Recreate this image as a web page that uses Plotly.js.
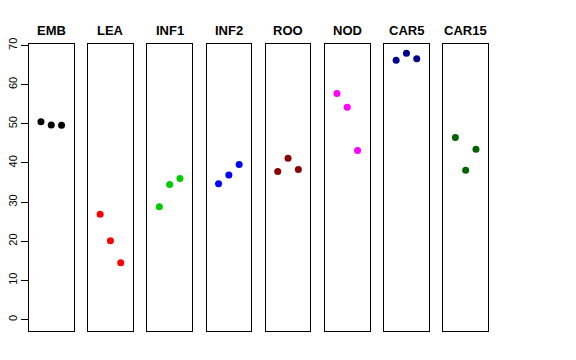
<!DOCTYPE html>
<html>
<head>
<meta charset="utf-8">
<script src="https://cdn.plot.ly/plotly-3.0.1.min.js"></script>
<style>html,body{margin:0;padding:0;background:#fff}#chart{width:576px;height:360px}</style>
</head>
<body>
<div id="chart"></div>
<script>
var categories = ["EMB", "LEA", "INF1", "INF2", "ROO", "NOD", "CAR5", "CAR15"];
var xPositions = [1, 2, 3];
var EMB = [50.5, 49.7, 49.6];
var LEA = [26.9, 20.1, 14.5];
var INF1 = [28.8, 34.5, 36.0];
var INF2 = [34.7, 36.9, 39.6];
var ROO = [37.8, 41.2, 38.3];
var NOD = [57.7, 54.2, 43.2];
var CAR5 = [66.2, 68.0, 66.6];
var CAR15 = [46.5, 38.1, 43.5];
var seriesValues = [EMB, LEA, INF1, INF2, ROO, NOD, CAR5, CAR15];
var colors = ["#000000", "#FF0000", "#00CD00", "#0000FF", "#8B0000", "#FF00FF", "#00008B", "#006400"];
var yTickVals = [0, 10, 20, 30, 40, 50, 60, 70];

var W = 576, H = 360;
var firstLeft = 29, step = 59.2, panelW = 44.5;
var boxTop = 43.5, boxBottom = 330.5;

var traces = [];
var layout = {
  width: W, height: H,
  margin: {l: 0, r: 0, t: 0, b: 0},
  paper_bgcolor: "#fff", plot_bgcolor: "#fff",
  showlegend: false,
  font: {family: "Liberation Sans, Arial, sans-serif", color: "#000"},
  annotations: []
};
categories.forEach(function (cat, i) {
  var n = i === 0 ? "" : String(i + 1);
  var x0 = (firstLeft + i * step) / W, x1 = (firstLeft + i * step + panelW) / W;
  traces.push({
    type: "scatter", mode: "markers",
    x: xPositions, y: seriesValues[i],
    xaxis: "x" + n, yaxis: "y" + n,
    marker: {color: colors[i], size: 7},
    hoverinfo: "skip"
  });
  layout["xaxis" + n] = {
    domain: [x0, x1], range: [-0.16, 4.16], anchor: "y" + n,
    showgrid: false, zeroline: false, showticklabels: false, ticks: "",
    showline: true, mirror: true, linecolor: "#000", linewidth: 1, fixedrange: true
  };
  var ya = {
    domain: [1 - boxBottom / H, 1 - boxTop / H], range: [-2.8, 70.5], anchor: "x" + n,
    showgrid: false, zeroline: false,
    showline: true, mirror: true, linecolor: "#000", linewidth: 1, fixedrange: true
  };
  if (i === 0) {
    ya.tickvals = yTickVals;
    ya.ticktext = yTickVals.map(String);
    ya.ticks = "outside"; ya.ticklen = 7; ya.tickcolor = "#000"; ya.tickwidth = 1;
    ya.tickangle = -90;
    ya.tickfont = {size: 11, color: "#000", family: "Liberation Sans, Arial, sans-serif"};
  } else {
    ya.showticklabels = false; ya.ticks = "";
  }
  layout["yaxis" + n] = ya;
  layout.annotations.push({
    text: "<b>" + cat + "</b>", xref: "paper", yref: "paper",
    x: (x0 + x1) / 2, y: 1 - 30.5 / H, xanchor: "center", yanchor: "middle",
    showarrow: false, font: {size: 13, color: "#000", family: "Liberation Sans, Arial, sans-serif"}
  });
});
Plotly.newPlot("chart", traces, layout, {staticPlot: true, displayModeBar: false});
</script>
</body>
</html>
